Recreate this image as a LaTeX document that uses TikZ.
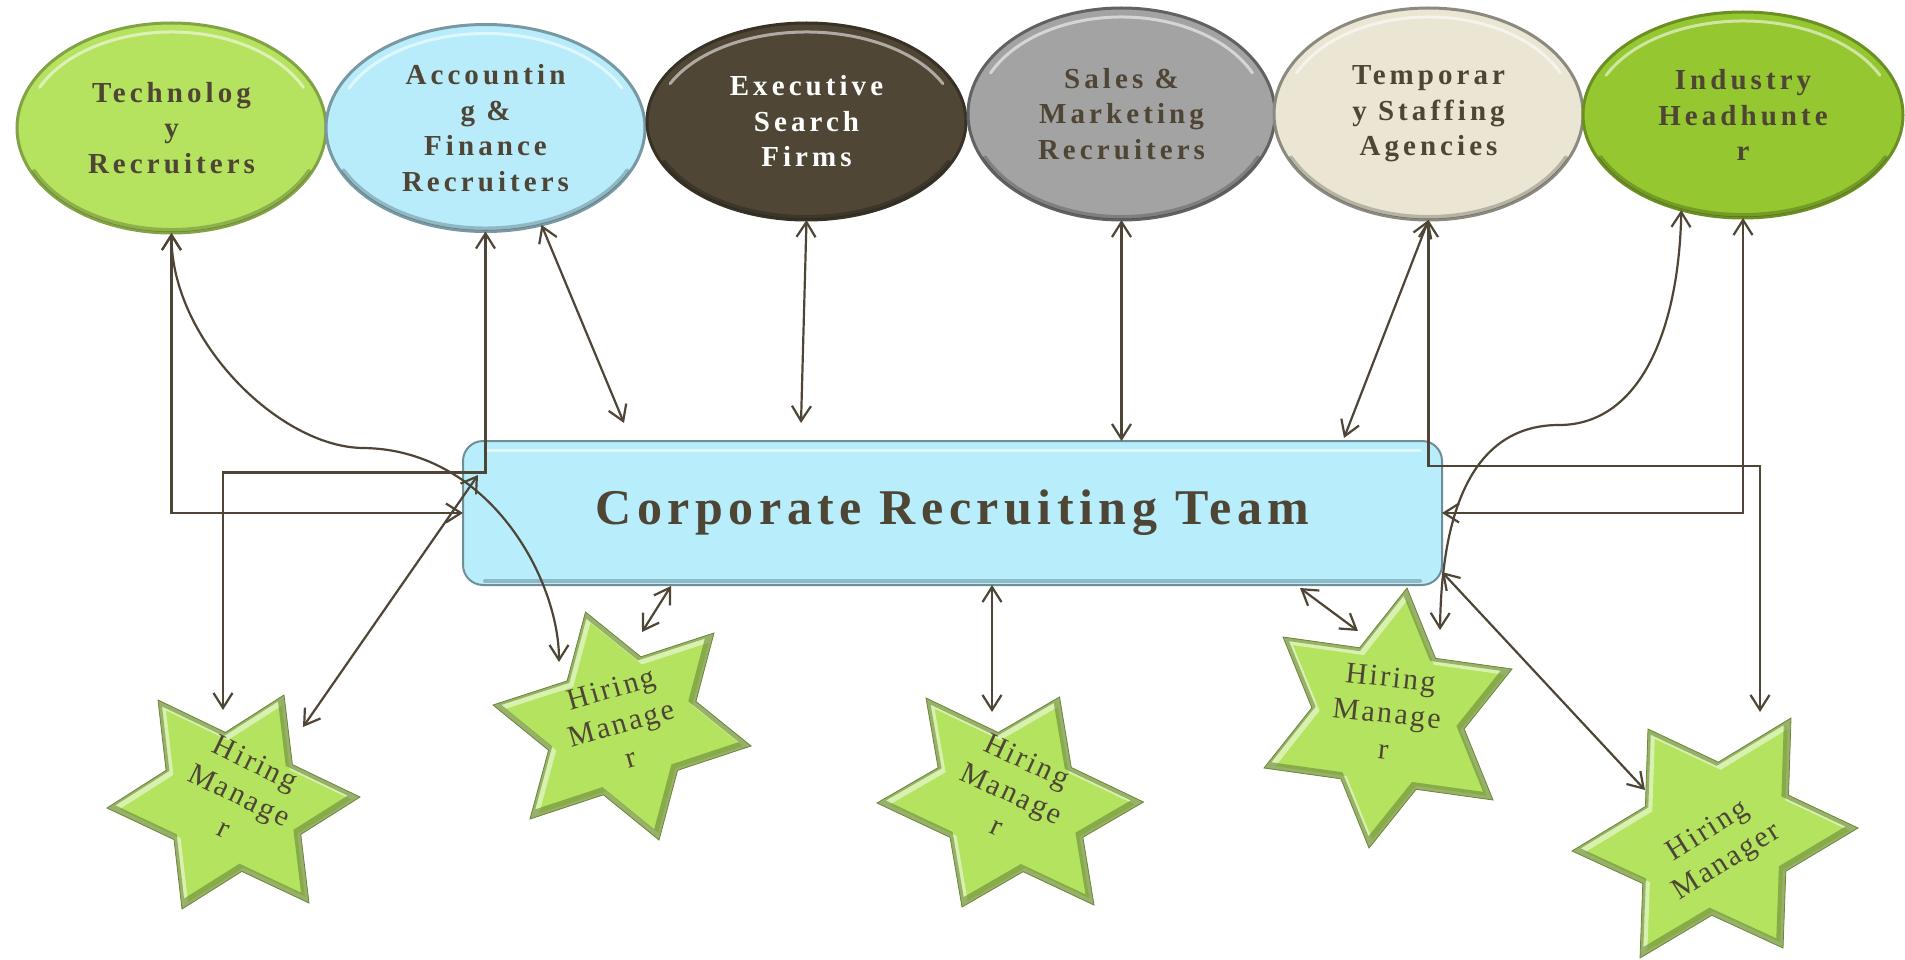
\documentclass[tikz,border=0pt]{standalone}
\usepackage{fontspec}
\setmainfont{Liberation Serif}
\newfontfamily\ellfont[LetterSpace=14]{Liberation Serif}
\newfontfamily\boxfont[LetterSpace=11]{Liberation Serif}
\newfontfamily\starfont[LetterSpace=8]{Liberation Serif}
\usetikzlibrary{shapes.geometric,arrows.meta,calc}
\definecolor{lc}{HTML}{4F4536}
\definecolor{tc}{HTML}{4E4535}
\definecolor{cTech}{HTML}{B5E25F}
\definecolor{cAcc}{HTML}{B8ECFB}
\definecolor{cExec}{HTML}{4F4636}
\definecolor{cSales}{HTML}{A3A3A3}
\definecolor{cTemp}{HTML}{EAE6D3}
\definecolor{cInd}{HTML}{95C731}
\definecolor{cBox}{HTML}{B8EEFC}
\definecolor{cStar}{HTML}{B3E35F}
\tikzset{
  oval/.style={ellipse, inner sep=0pt, outer sep=0pt, line width=3pt, align=center, text=tc,
    font=\ellfont\bfseries\fontsize{29}{35.5}\selectfont},
  crtbox/.style={rectangle, rounded corners=20pt, inner sep=0pt, outer sep=0pt, fill=cBox,
    draw=cBox!60!black, line width=2pt, minimum width=979pt, minimum height=144pt, text=tc,
    font=\boxfont\bfseries\fontsize{50}{58}\selectfont},
  stxt/.style={align=center, text=tc, inner sep=0pt, font=\starfont\fontsize{30}{36}\selectfont},
  conn/.style={draw=lc, line width=2.2pt, line cap=round, line join=miter,
    >={Straight Barb[length=15pt,width=19pt]}, <->},
  hilite/.style={white, opacity=0.55, line width=3pt, line cap=round},
  lowshade/.style={black, opacity=0.22, line width=4pt, line cap=round}
}
\newcommand{\hexstar}[7]{%
  \coordinate (#1a) at #2; \coordinate (#1b) at #3; \coordinate (#1c) at #4;
  \coordinate (#1d) at #5; \coordinate (#1e) at #6; \coordinate (#1f) at #7;
  \path[save path=\tmpstar] (#1a)
    -- (intersection of #1a--#1c and #1b--#1f) -- (#1b)
    -- (intersection of #1b--#1d and #1c--#1a) -- (#1c)
    -- (intersection of #1c--#1e and #1d--#1b) -- (#1d)
    -- (intersection of #1d--#1f and #1e--#1c) -- (#1e)
    -- (intersection of #1e--#1a and #1f--#1d) -- (#1f)
    -- (intersection of #1f--#1b and #1a--#1e) -- cycle;
  \fill[cStar, use path=\tmpstar];
  \begin{scope}
    \path[clip, use path=\tmpstar];
    \draw[cStar!50!white, line width=10pt, line join=miter, transform canvas={shift={(2pt,-2pt)}}, use path=\tmpstar];
    \draw[cStar!55!black, opacity=0.55, line width=10pt, line join=miter, transform canvas={shift={(-2pt,2pt)}}, use path=\tmpstar];
  \end{scope}
  \draw[cStar!60!black, line width=0.8pt, line join=miter, use path=\tmpstar];
}
\newcommand{\ovalfx}[3]{%
  \draw[lowshade] ($(#1.center)+(25:#2-3 and #3-3)$) arc[start angle=25, end angle=155, x radius=#2-3, y radius=#3-3];
  \draw[hilite] ($(#1.center)+(205:#2-9 and #3-9)$) arc[start angle=205, end angle=335, x radius=#2-9, y radius=#3-9];
}
\begin{document}
\begin{tikzpicture}[x=1pt,y=-1pt]
\useasboundingbox (0,0) rectangle (1905,960);
\fill[white] (0,0) rectangle (1905,960);

% ---- top ellipses
\node[oval, fill=cTech, draw=cTech!72!black, minimum width=309pt, minimum height=210pt] (tech) at (171.5,128) {Technolog\\y\\Recruiters};
\node[oval, fill=cAcc, draw=cAcc!65!black, minimum width=319pt, minimum height=207pt] (acc) at (485.5,128) {Accountin\\g \&\\Finance\\Recruiters};
\node[oval, fill=cExec, draw=cExec!70!black, text=white, minimum width=319pt, minimum height=197pt] (exec) at (806.5,121.5) {Executive\\Search\\Firms};
\node[oval, fill=cSales, draw=cSales!60!black, minimum width=307pt, minimum height=212pt] (sales) at (1121.5,114) {Sales \&\\Marketing\\Recruiters};
\node[oval, fill=cTemp, draw=cTemp!60!black, minimum width=309pt, minimum height=212pt] (temp) at (1428.5,114) {Temporar\\y Staffing\\Agencies};
\node[oval, fill=cInd, draw=cInd!72!black, minimum width=320pt, minimum height=206pt] (ind) at (1743,115) {Industry\\Headhunte\\r};
\ovalfx{tech}{154.5}{105}
\ovalfx{acc}{159.5}{103.5}
\ovalfx{exec}{159.5}{98.5}
\ovalfx{sales}{153.5}{106}
\ovalfx{temp}{154.5}{106}
\ovalfx{ind}{160}{103}

% ---- central box
\node[crtbox] (crt) at (952.5,513) {Corporate Recruiting Team};
\draw[hilite] ($(crt.north west)+(22,9)$) -- ($(crt.north east)+(-22,9)$);
\draw[lowshade] ($(crt.south west)+(22,-4)$) -- ($(crt.south east)+(-22,-4)$);

% ---- stars
\hexstar{sA}{(158,700)}{(284,695)}{(360,797)}{(309,903)}{(182,909)}{(107,808)}
\hexstar{sB}{(585.5,612)}{(714,633)}{(751,746)}{(659,840)}{(530,819)}{(493,705)}
\hexstar{sC}{(926,698)}{(1059.5,697)}{(1143.5,802)}{(1094,905)}{(962,907)}{(877,803)}
\hexstar{sD}{(1407,588)}{(1512,669)}{(1493,800)}{(1369,848)}{(1264,768)}{(1283,637)}
\hexstar{sE}{(1648,729)}{(1791,718)}{(1858,828)}{(1783,948)}{(1640,958)}{(1572,851)}

\node[stxt, rotate=-26] (hm1) at (240,795) {Hiring\\Manage\\r};
\node[stxt, rotate=16] (hm2) at (621,723) {Hiring\\Manage\\r};
\node[stxt, rotate=-25] (hm3) at (1012,793) {Hiring\\Manage\\r};
\node[stxt, rotate=-6] (hm4) at (1387,713) {Hiring\\Manage\\r};
\node[stxt, rotate=32] (hm5) at (1718,847) {Hiring\\Manager};

% ---- attachment points
\coordinate (s1t) at (223,710);
\coordinate (s1n) at (303,727);
\coordinate (s2c) at (559,662);
\coordinate (s2t) at (642,632);
\coordinate (s3t) at (992,712);
\coordinate (s4t) at (1358,631);
\coordinate (s4c) at (1440,630);
\coordinate (s5t) at (1760,712);
\coordinate (s5n) at (1645,790);
\coordinate (bnw) at (478,475);
\coordinate (bs2) at (671,586);
\coordinate (bs4) at (1300,588);
\coordinate (bse) at (1442,572);
\coordinate (accb) at (624,423);
\coordinate (execb) at (801,423);
\coordinate (tempb) at (1344,438);
\coordinate (tcm) at (364,448);
\coordinate (icm) at (1559,425);

% ---- connectors
\draw[conn] (tech.south) |- (crt.west);
\draw[conn] (tech.south) .. controls (171,340) and (280,448) .. (tcm) .. controls (490,450) and (559,580) .. (s2c);
\draw[conn] (acc.south) -- ++(0,241) -| (s1t);
\draw[conn] (acc.-60) -- (accb);
\draw[conn] (exec.south) -- (execb);
\draw[conn] (sales.south) -- (sales.south |- crt.north);
\draw[conn] (temp.south) -- (tempb);
\draw[conn] (temp.south) -- ++(0,246) -| (s5t);
\draw[conn] (ind.237) .. controls (1679,330) and (1640,425) .. (icm) .. controls (1490,425) and (1442,480) .. (s4c);
\draw[conn] (ind.south) |- (crt.east);
\draw[conn] (s1n) -- (bnw);
\draw[conn] (s2t) -- (bs2);
\draw[conn] (s3t) -- (s3t |- crt.south);
\draw[conn] (s4t) -- (bs4);
\draw[conn] (s5n) -- (bse);
\end{tikzpicture}
\end{document}
